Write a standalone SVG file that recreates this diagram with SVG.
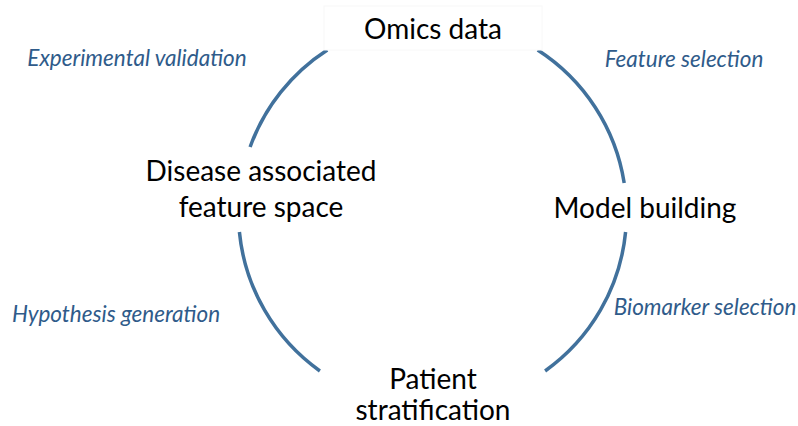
<svg xmlns="http://www.w3.org/2000/svg" width="798" height="426" viewBox="0 0 798 426">
<style>
.box{fill:#ffffff;stroke:#f8f8f8;stroke-width:1}
.main{font-family:Lato,"Liberation Sans",sans-serif;font-size:28px;fill:#000000;text-anchor:middle}
.lbl{font-family:Lato,"Liberation Sans",sans-serif;font-style:italic;font-size:22.5px;fill:#2f5b8a;text-anchor:middle}
.arc{fill:none;stroke:#41719c;stroke-width:3.5}
</style>
<rect width="798" height="426" fill="#ffffff"/>
<g id="connectors">
<path class="arc" d="M327.3,50 A194,194 0 0 0 250.1,147"/>
<path class="arc" d="M239.4,232 A194,194 0 0 0 319.9,371"/>
<path class="arc" d="M545.1,371 A194,194 0 0 0 625.6,232"/>
<path class="arc" d="M624.2,183 A194,194 0 0 0 537.7,50"/>
</g>
<g id="omics">
<rect class="box" x="324" y="6" width="218" height="44"/>
<text class="main" x="433" y="39">Omics data</text>
</g>
<g id="disease">
<text class="main" x="261" y="181">Disease associated</text>
<text class="main" x="261" y="217">feature space</text>
</g>
<g id="model">
<text class="main" x="645" y="218">Model building</text>
</g>
<g id="patient">
<text class="main" x="433" y="389">Patient</text>
<text class="main" x="433" y="420">stratification</text>
</g>
<g id="labels">
<text class="lbl" x="137" y="66">Experimental validation</text>
<text class="lbl" x="684" y="67">Feature selection</text>
<text class="lbl" x="116" y="322">Hypothesis generation</text>
<text class="lbl" x="705" y="315">Biomarker selection</text>
</g>
</svg>
